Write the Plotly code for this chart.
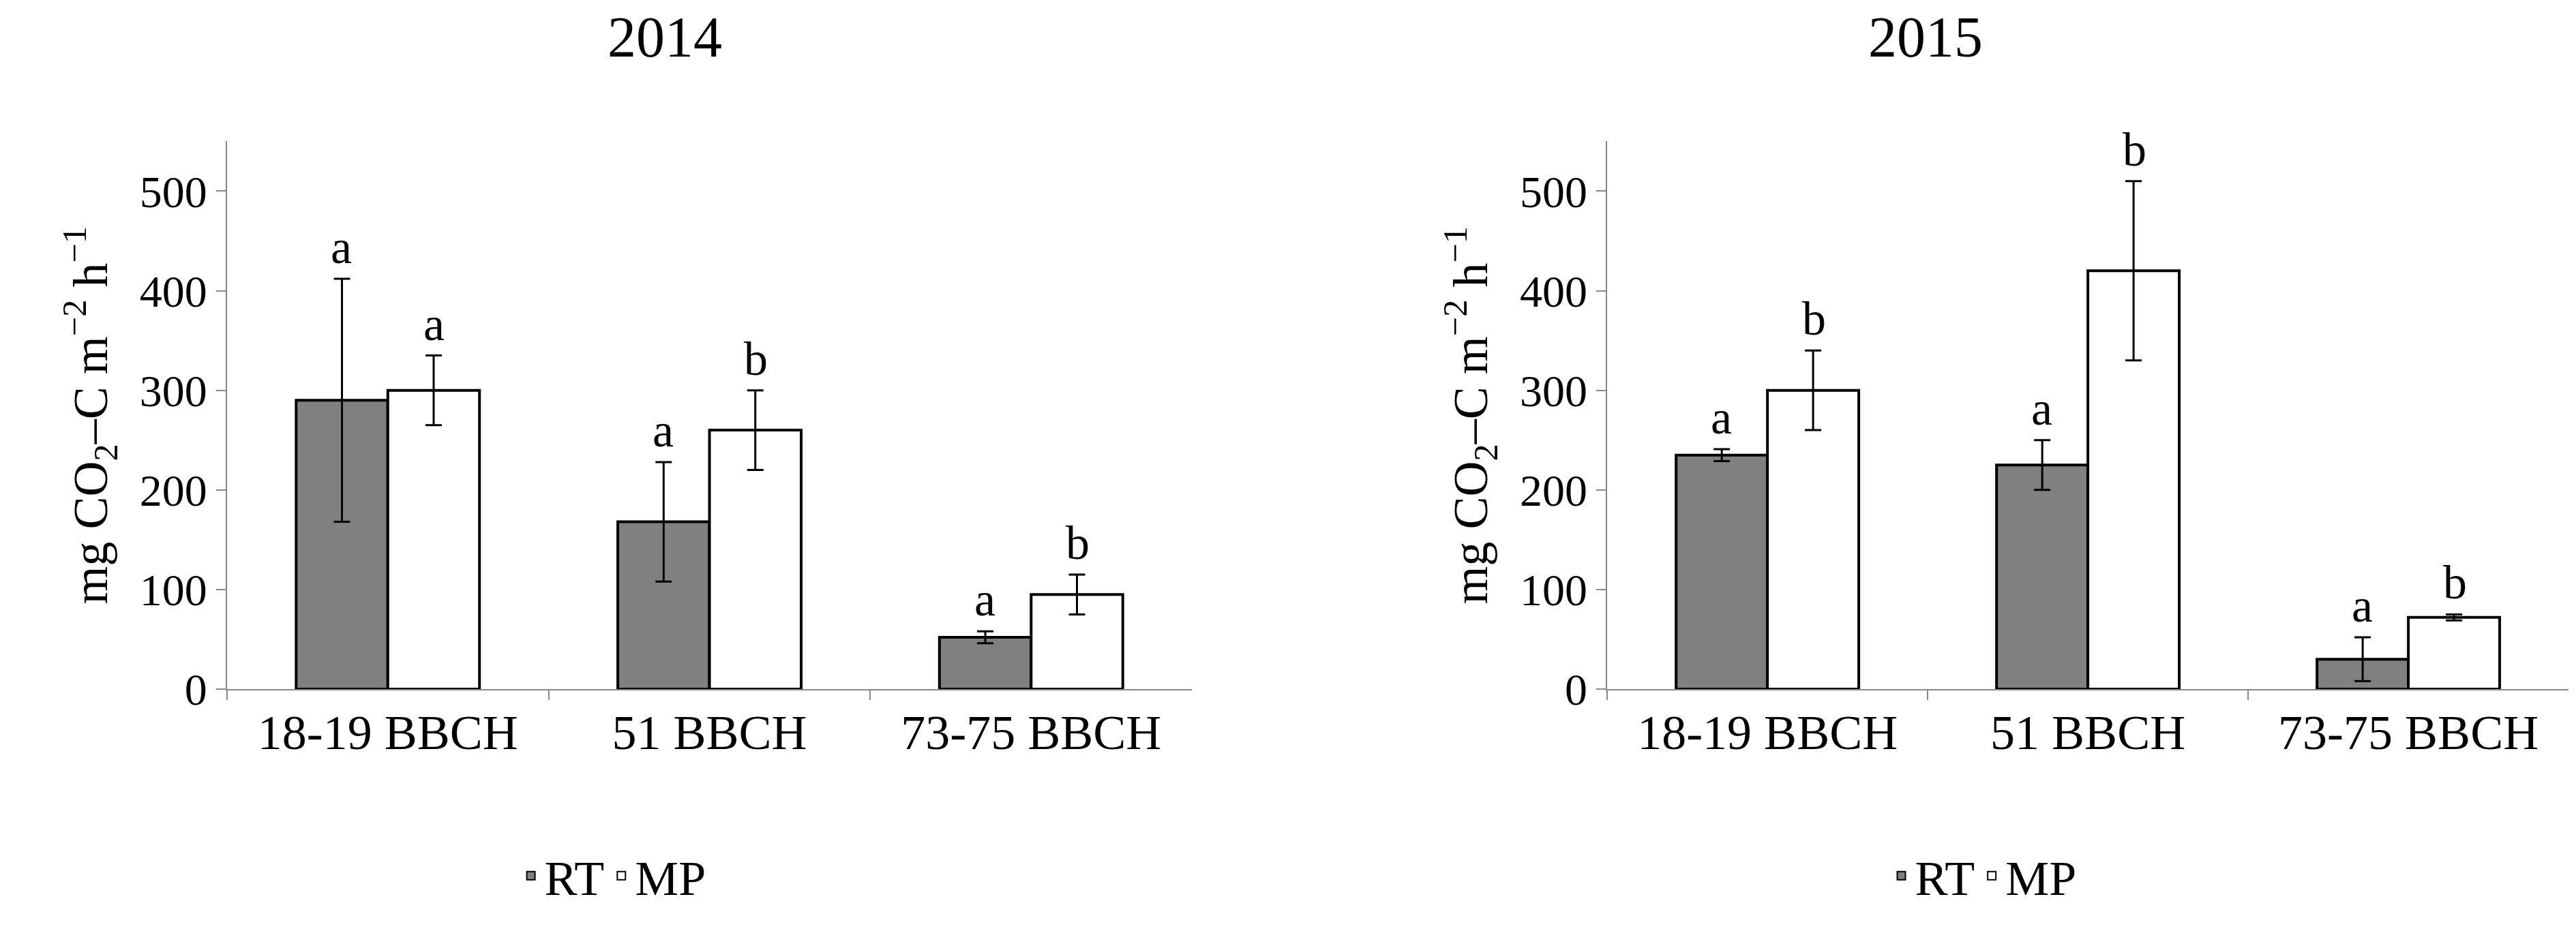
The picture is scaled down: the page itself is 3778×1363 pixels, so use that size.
import plotly.graph_objects as go

categories = ["18-19 BBCH", "51 BBCH", "73-75 BBCH"]
rt_2014 = [290, 168, 52]
rt_2014_err = [122, 60, 6]
mp_2014 = [300, 260, 95]
mp_2014_err = [35, 40, 20]
rt_2015 = [235, 225, 30]
rt_2015_err = [6, 25, 22]
mp_2015 = [300, 420, 72]
mp_2015_err = [40, 90, 3]
rt_2014_letters = ["a", "a", "a"]
mp_2014_letters = ["a", "b", "b"]
rt_2015_letters = ["a", "a", "a"]
mp_2015_letters = ["b", "b", "b"]
titles = ["2014", "2015"]

FONT = "Liberation Serif"
fig = go.Figure()
panels = [
    ("x", "y", rt_2014, rt_2014_err, mp_2014, mp_2014_err, rt_2014_letters, mp_2014_letters, "legend"),
    ("x2", "y2", rt_2015, rt_2015_err, mp_2015, mp_2015_err, rt_2015_letters, mp_2015_letters, "legend2"),
]
for xa, ya, rt, rte, mp, mpe, rl, ml, lg in panels:
    for name, vals, errs, color in [("RT", rt, rte, "#808080"), ("MP", mp, mpe, "white")]:
        fig.add_trace(go.Bar(
            x=categories, y=vals, name=name, xaxis=xa, yaxis=ya, legend=lg,
            marker=dict(color=color, line=dict(color="black", width=4)),
            error_y=dict(type="data", array=errs, color="black", thickness=3, width=12),
        ))
    for vals, errs, letters, shift in [(rt, rte, rl, -68), (mp, mpe, ml, 68)]:
        for c, v, e, t in zip(categories, vals, errs, letters):
            fig.add_annotation(x=c, y=v + e, text=t, xref=xa, yref=ya, xshift=shift,
                               yshift=6, yanchor="bottom", showarrow=False,
                               font=dict(family=FONT, size=70, color="black"))

axis_common = dict(showline=True, linecolor="#888888", linewidth=2, ticks="outside",
                   tickcolor="#888888", ticklen=14, tickwidth=2, showgrid=False)
ytitle = "mg CO<sub>2</sub>–C m<sup>−2</sup> h<sup>−1</sup>"
yt = dict(domain=[0.2436, 0.8496], range=[0, 550], tickvals=[0, 100, 200, 300, 400, 500],
          tickfont=dict(family=FONT, size=66, color="black"),
          title=dict(text=ytitle, font=dict(family=FONT, size=72), standoff=24), **axis_common)
xt = dict(tickson="boundaries", tickfont=dict(family=FONT, size=72, color="black"), **axis_common)
fig.update_layout(
    width=3778, height=1363, margin=dict(l=0, r=0, t=0, b=0),
    paper_bgcolor="white", plot_bgcolor="white",
    barmode="group", bargap=0.43, bargroupgap=0,
    font=dict(family=FONT, color="black"),
    xaxis=dict(domain=[0.086, 0.4606], anchor="y", **xt),
    xaxis2=dict(domain=[0.6218, 0.995], anchor="y2", **xt),
    yaxis=dict(anchor="x", **yt),
    yaxis2=dict(anchor="x2", **yt),
    legend=dict(orientation="h", x=0.236, xanchor="center", y=0.037, yanchor="middle",
                font=dict(family=FONT, size=72), itemsizing="constant"),
    legend2=dict(orientation="h", x=0.768, xanchor="center", y=0.037, yanchor="middle",
                 font=dict(family=FONT, size=72), itemsizing="constant"),
)
for t, x in zip(titles, [0.2333, 0.768]):
    fig.add_annotation(text=t, x=x, y=0.965, xref="paper", yref="paper", showarrow=False,
                       yanchor="middle", font=dict(family=FONT, size=84, color="black"))
fig.write_html("out.html")
